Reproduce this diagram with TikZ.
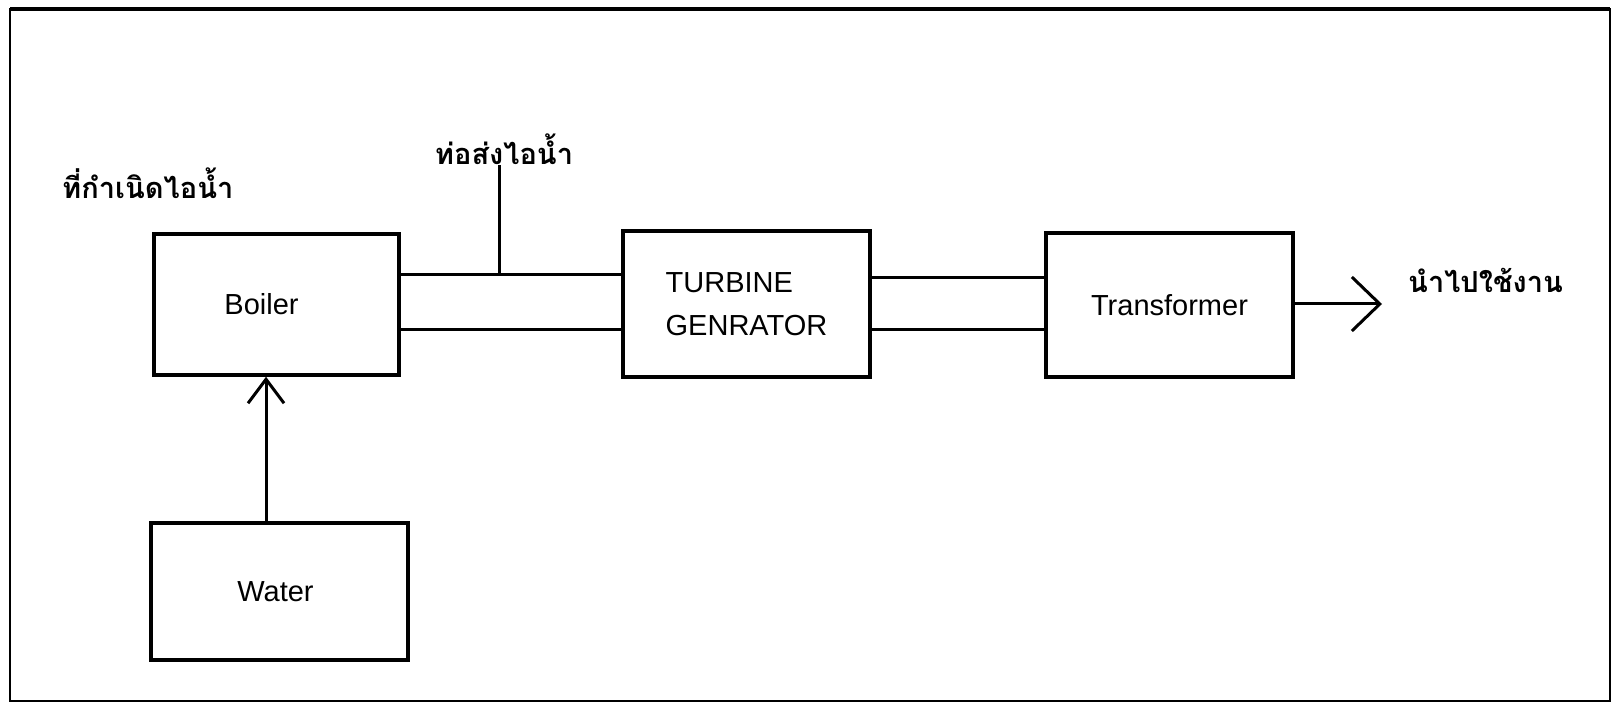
\documentclass[tikz,border=0pt]{standalone}
\usepackage{fontspec}
\setmainfont{Liberation Sans}
\newfontfamily\thaifont[Script=Thai]{Loma}
\usetikzlibrary{arrows.meta}
\tikzset{
  blk/.style={draw, line width=3.5pt, inner sep=0pt, font=\fontsize{29}{43}\selectfont, align=center},
  thai/.style={inner sep=0pt, font=\thaifont\bfseries\fontsize{29}{32}\selectfont},
  pipe/.style={line width=3pt},
  chev/.style={line width=3pt, -{Straight Barb[length=28pt,width=54pt,line width=3pt]}},
  chevs/.style={line width=3pt, -{Straight Barb[length=24pt,width=36pt,line width=3pt]}}
}
\begin{document}
\begin{tikzpicture}[x=1pt,y=-1pt]
\useasboundingbox (0,0) rectangle (1614,703);
\draw[line width=2.5pt] (10,9) rectangle (1610,701);
\draw[line width=4pt] (10,9) -- (1610,9);
\node[blk, minimum width=245pt, minimum height=141pt] (boiler) at (276.5,304.5) {Boiler\hspace*{30pt}};
\node[blk, align=left, minimum width=247pt, minimum height=146pt] (turbine) at (746.5,304) {TURBINE\\GENRATOR};
\node[blk, minimum width=247pt, minimum height=144pt] (transformer) at (1169.5,305) {Transformer};
\node[blk, minimum width=257pt, minimum height=137pt] (water) at (279.5,591.5) {Water\hspace*{8pt}};
\node[thai, anchor=west] (source) at (62,183) {ที่กำเนิดไอน้ำ};
\node[thai] (pipelbl) at (504,149) {ท่อส่งไอน้ำ};
\node[thai, anchor=west] (use) at (1408,280) {นำไปใช้งาน};
\coordinate (ya) at (0,275);
\coordinate (yb) at (0,329);
\coordinate (yc) at (0,278);
\coordinate (tap) at (499,275);
\coordinate (wx) at (266,0);
\coordinate (outend) at (1382,304);
\draw[pipe] (boiler.east |- ya) -- (turbine.west |- ya);
\draw[pipe] (boiler.east |- yb) -- (turbine.west |- yb);
\draw[pipe] (turbine.east |- yc) -- (transformer.west |- yc);
\draw[pipe] (turbine.east |- yb) -- (transformer.west |- yb);
\draw[pipe] (tap) -- (tap |- pipelbl.south);
\draw[chev] (transformer.east |- outend) -- (outend);
\draw[chevs] (water.north -| wx) -- (boiler.south -| wx);
\end{tikzpicture}
\end{document}
